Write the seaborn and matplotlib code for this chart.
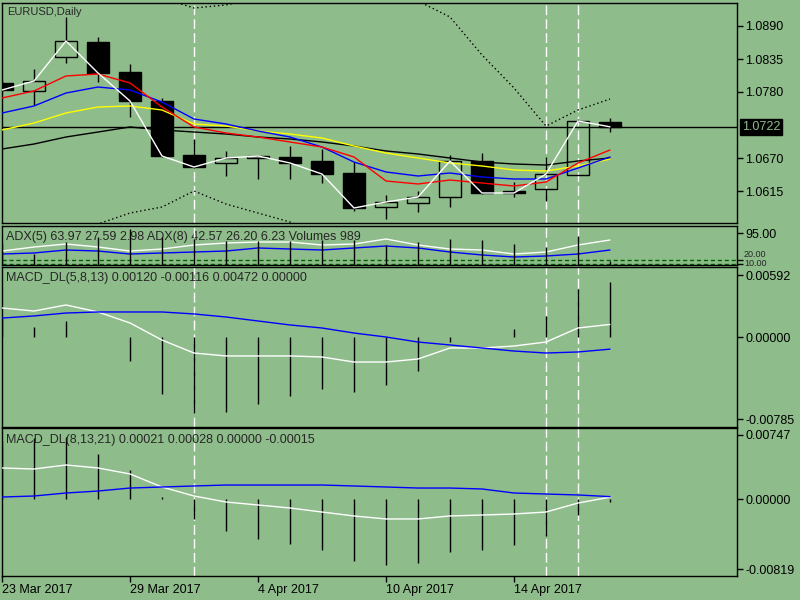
import numpy as np
import pandas as pd
import matplotlib
matplotlib.use("Agg")
import matplotlib.pyplot as plt
import seaborn as sns

sns.set_theme(style="white")
plt.rcParams['font.family'] = ['Liberation Sans', 'DejaVu Sans']

BG = "#8fbc8b"
FS = 9

# ---------------------------
# data (one value per daily bar)
# ---------------------------
bar_dates = ["2017-03-23", "2017-03-24", "2017-03-27", "2017-03-28", "2017-03-29",
             "2017-03-30", "2017-03-31", "2017-04-03", "2017-04-04", "2017-04-05",
             "2017-04-06", "2017-04-07", "2017-04-10", "2017-04-11", "2017-04-12",
             "2017-04-13", "2017-04-14", "2017-04-17", "2017-04-18", "2017-04-19"]
tick_bars = [0, 4, 8, 12, 16]
tick_labels = ["23 Mar 2017", "29 Mar 2017", "4 Apr 2017", "10 Apr 2017", "14 Apr 2017"]

open_ = [1.0795, 1.07817, 1.08383, 1.08633, 1.08133, 1.0765, 1.0675, 1.06617, 1.0670, 1.06717,
         1.0665, 1.0645, 1.05883, 1.0595, 1.0605, 1.0665, 1.0615, 1.06183, 1.06417, 1.0730]
high = [1.0800, 1.08183, 1.0905, 1.08717, 1.08267, 1.0770, 1.07017, 1.06817, 1.0674, 1.0690,
        1.0685, 1.06633, 1.06083, 1.0615, 1.0675, 1.06783, 1.0630, 1.06717, 1.0735, 1.07367]
low = [1.0778, 1.07583, 1.08283, 1.07967, 1.07383, 1.0672, 1.0654, 1.0640, 1.0635, 1.0635,
       1.06283, 1.05817, 1.05683, 1.0580, 1.05883, 1.0610, 1.0605, 1.05983, 1.0641, 1.07133]
close = [1.07833, 1.07983, 1.0865, 1.08117, 1.0765, 1.06733, 1.0655, 1.0670, 1.06733, 1.06617,
         1.06433, 1.05867, 1.05967, 1.0605, 1.0665, 1.06117, 1.06117, 1.06433, 1.07317, 1.0722]
last_price = 1.0722

ma_red = [1.0770, 1.07817, 1.08067, 1.0810, 1.0795, 1.0755, 1.07217, 1.07117, 1.0705, 1.06967,
          1.06883, 1.06717, 1.06317, 1.06267, 1.06333, 1.06283, 1.06233, 1.0630, 1.06617, 1.06833]
ma_blue = [1.0745, 1.07567, 1.07783, 1.07883, 1.07833, 1.07633, 1.0735, 1.07267, 1.0715, 1.0705,
           1.06883, 1.06633, 1.06467, 1.0640, 1.0645, 1.06383, 1.0635, 1.0635, 1.06533, 1.06717]
ma_yellow = [1.07167, 1.07283, 1.0745, 1.0755, 1.07567, 1.0750, 1.07267, 1.07233, 1.0715, 1.0710,
             1.07033, 1.0690, 1.06783, 1.0670, 1.06617, 1.06567, 1.0650, 1.06483, 1.06567, 1.06683]
ma_black = [1.0685, 1.06933, 1.0705, 1.07133, 1.07217, 1.07167, 1.07133, 1.0710, 1.0705, 1.07017,
            1.06967, 1.0690, 1.06817, 1.06767, 1.0670, 1.06633, 1.0660, 1.06583, 1.0665, 1.0670]
band_upper = [1.09833, 1.09917, 1.1000, 1.09833, 1.09583, 1.09367, 1.0920, 1.0925, 1.09367, 1.09583,
              1.0975, 1.09833, 1.09583, 1.09317, 1.0905, 1.08417, 1.07867, 1.07233, 1.0750, 1.07683]
band_lower = [1.05333, 1.05417, 1.05467, 1.0560, 1.05783, 1.05883, 1.0615, 1.05933, 1.05783, 1.05633,
              1.05417, 1.0525, 1.05167, 1.05167, 1.0530, 1.0525, 1.05333, 1.0537, 1.05417, 1.05467]

adx5 = [45.6, 56.6, 64.8, 56.6, 45.6, 51.1, 62.1, 67.6, 70.3, 70.3,
        62.1, 64.8, 78.5, 62.1, 51.1, 48.4, 37.4, 42.9, 62.1, 75.8]
adx8 = [37.4, 40.2, 48.4, 45.6, 37.4, 40.2, 42.9, 45.6, 53.9, 51.1,
        48.4, 53.9, 59.3, 53.9, 42.9, 34.7, 29.2, 31.9, 37.4, 48.4]
adx_levels = [20, 10]
volume = [5500, 2750, 5750, 7000, 9000, 7000, 6500, 6000, 6000, 6000,
          6250, 6250, 5000, 5750, 6500, 6250, 5250, 4500, 7250, 989]

macd1_main = [0.00277, 0.00248, 0.00306, 0.00239, 0.00134, -0.00029, -0.00153, -0.00181, -0.00181, -0.00181,
              -0.00191, -0.00239, -0.00239, -0.00210, -0.00105, -0.00105, -0.00086, -0.00048, 0.00086, 0.00120]
macd1_signal = [0.00181, 0.00201, 0.00229, 0.00239, 0.00239, 0.00239, 0.00220, 0.00191, 0.00153, 0.00115,
                0.00086, 0.00038, 0.0, -0.00048, -0.00076, -0.00105, -0.00134, -0.00153, -0.00143, -0.00116]
macd1_hist = [0.0019, 0.00095, 0.0015, -0.00003, -0.0023, -0.0054, -0.0073, -0.0072, -0.0064, -0.0056,
              -0.0050, -0.0053, -0.0046, -0.0032, -0.0005, 0.0, 0.0008, 0.0020, 0.0046, 0.00525]

macd2_main = [0.00362, 0.00350, 0.00397, 0.00362, 0.00292, 0.00140, 0.00035, -0.00035, -0.00070, -0.00105,
              -0.00152, -0.00198, -0.00233, -0.00233, -0.00198, -0.00187, -0.00175, -0.00152, -0.00047, 0.00021]
macd2_signal = [0.00023, 0.00035, 0.00070, 0.00093, 0.00128, 0.00140, 0.00152, 0.00163, 0.00163, 0.00163,
                0.00163, 0.00152, 0.00140, 0.00128, 0.00128, 0.00117, 0.00070, 0.00058, 0.00047, 0.00028]
macd2_hist = [0.0068, 0.0071, 0.0072, 0.0053, 0.0034, 0.0002, -0.0023, -0.0037, -0.0047, -0.0053,
              -0.0060, -0.0072, -0.0077, -0.0075, -0.0062, -0.0060, -0.0054, -0.0043, -0.0019, -0.0003]

marker_bars = [6, 17, 18]

df = pd.DataFrame({
    "bar": np.arange(len(bar_dates)),
    "close": close, "ma_red": ma_red, "ma_blue": ma_blue,
    "ma_yellow": ma_yellow, "ma_black": ma_black,
    "adx5": adx5, "adx8": adx8,
    "m1": macd1_main, "s1": macd1_signal, "m2": macd2_main, "s2": macd2_signal,
})
bars = df["bar"].values

# ---------------------------
# layout: four stacked panels, pixel positions
# ---------------------------
W, H = 800.0, 600.0
fig = plt.figure(figsize=(8, 6), dpi=100, facecolor=BG)


def panel(top, bottom):
    return fig.add_axes([2 / W, 1 - bottom / H, 735 / W, (bottom - top) / H], facecolor=BG)


ax_p = panel(3, 223)
ax_adx = panel(226, 265)
ax_m1 = panel(267, 427)
ax_m2 = panel(428, 576)
axes = [ax_p, ax_adx, ax_m1, ax_m2]


def line(ax, col, color):
    sns.lineplot(data=df, x="bar", y=col, ax=ax, color=color, linewidth=1, zorder=4, legend=False)


# ---------------------------
# price panel
# ---------------------------
body_top = np.maximum(open_, close)
body_bot = np.minimum(open_, close)
ax_p.vlines(bars, body_top, high, color="black", lw=1, zorder=2)
ax_p.vlines(bars, low, body_bot, color="black", lw=1, zorder=2)
face = ["black" if c < o else "none" for o, c in zip(open_, close)]
ax_p.bar(bars, body_top - body_bot, bottom=body_bot, width=0.66, color=face,
         edgecolor="black", linewidth=1, zorder=3)

line(ax_p, "ma_black", "black")
line(ax_p, "ma_yellow", "#ffff00")
line(ax_p, "ma_blue", "#0000ff")
line(ax_p, "ma_red", "#ff0000")
line(ax_p, "close", "white")
ax_p.plot(bars, band_upper, color="black", lw=1, linestyle=(0, (1, 2)), zorder=4)
ax_p.plot(bars, band_lower, color="black", lw=1, linestyle=(0, (1, 2)), zorder=4)
ax_p.axhline(last_price, color="black", lw=1, zorder=1)

price_ticks = [1.0615, 1.0670, 1.0780, 1.0835, 1.0890]
ax_p.set_ylim(1.0890 - 197 / 6000, 1.0890 + 23 / 6000)
ax_p.set_yticks(price_ticks)
ax_p.set_yticklabels(["%.4f" % v for v in price_ticks])
ax_p.text(1.0065, last_price, "%.4f" % last_price, transform=ax_p.get_yaxis_transform(),
          color=BG, fontsize=FS, va="center", ha="left", clip_on=False,
          bbox=dict(facecolor="black", edgecolor="black", pad=1.6))
ax_p.text(5 / 735, 1 - 9 / 220, "EURUSD,Daily", transform=ax_p.transAxes,
          fontsize=8, va="center", ha="left")

# ---------------------------
# ADX + volumes panel
# ---------------------------
ax_adx.text(4 / 735, (265 - 237) / 39, "ADX(5) 63.97 27.59 2.98 ADX(8) 42.57 26.20 6.23 Volumes 989",
            transform=ax_adx.transAxes, fontsize=FS, va="center", ha="left", zorder=1)
line(ax_adx, "adx5", "white")
line(ax_adx, "adx8", "#0000ff")
for lvl in adx_levels:
    ax_adx.axhline(lvl, color="#006400", lw=1, dashes=(3, 2), zorder=2)
ax_adx.set_ylim(7.26, 114.2)

ax_vol = ax_adx.twinx()
ax_vol.vlines(bars, 0, volume, color="black", lw=1)
ax_vol.set_ylim(0, 9750)
ax_vol.set_xlim(0, 735 / 32)
ax_vol.set_axis_off()
ax_adx.set_yticks([95] + adx_levels)
ax_adx.set_yticklabels(["95.00", "", ""])
# the two level labels sit crowded just above the panel bottom
for lbl, ypx in zip(["20.00", "10.00"], [254.5, 263.5]):
    ax_adx.text(1.0095, (265 - ypx) / 39, lbl, transform=ax_adx.transAxes,
                fontsize=6.5, va="center", ha="left", clip_on=False)

# ---------------------------
# MACD panels
# ---------------------------
ax_m1.vlines(bars, 0, macd1_hist, color="black", lw=1, zorder=2)
line(ax_m1, "m1", "white")
line(ax_m1, "s1", "#0000ff")
ax_m1.set_ylim(-0.008595, 0.006685)
ax_m1.set_yticks([0.00592, 0.0, -0.00785])
ax_m1.set_yticklabels(["0.00592", "0.00000", "-0.00785"])
ax_m1.text(4 / 735, 1 - 11 / 160, "MACD_DL(5,8,13) 0.00120 -0.00116 0.00472 0.00000",
           transform=ax_m1.transAxes, fontsize=FS, va="center", ha="left")

ax_m2.vlines(bars, 0, macd2_hist, color="black", lw=1, zorder=2)
line(ax_m2, "m2", "white")
line(ax_m2, "s2", "#0000ff")
ax_m2.set_ylim(-0.008986, 0.008286)
ax_m2.set_yticks([0.00747, 0.0, -0.00819])
ax_m2.set_yticklabels(["0.00747", "0.00000", "-0.00819"])
ax_m2.text(4 / 735, 1 - 12 / 148, "MACD_DL(8,13,21) 0.00021 0.00028 0.00000 -0.00015",
           transform=ax_m2.transAxes, fontsize=FS, va="center", ha="left")

# ---------------------------
# common styling
# ---------------------------
for ax in axes:
    for b in marker_bars:
        ax.axvline(b, color="white", lw=1, dashes=(7, 3), zorder=1)
    ax.set_xlim(0, 735 / 32)
    ax.set_xlabel("")
    ax.set_ylabel("")
    for sp in ax.spines.values():
        sp.set_color("black")
        sp.set_linewidth(1)
        sp.set_visible(True)
    ax.yaxis.tick_right()
    ax.tick_params(axis="y", right=True, labelright=True, left=False, labelleft=False,
                   direction="out", length=4, width=1, color="black", pad=2,
                   labelsize=FS, labelcolor="black")
    if ax is not ax_m2:
        ax.set_xticks([])

ax_m2.set_xticks(tick_bars)
ax_m2.set_xticklabels(tick_labels, ha="left")
ax_m2.tick_params(axis="x", bottom=True, direction="out", length=4, width=1, color="black",
                  pad=2, labelsize=FS, labelcolor="black")

plt.savefig("out.png", dpi=100, facecolor=BG)
